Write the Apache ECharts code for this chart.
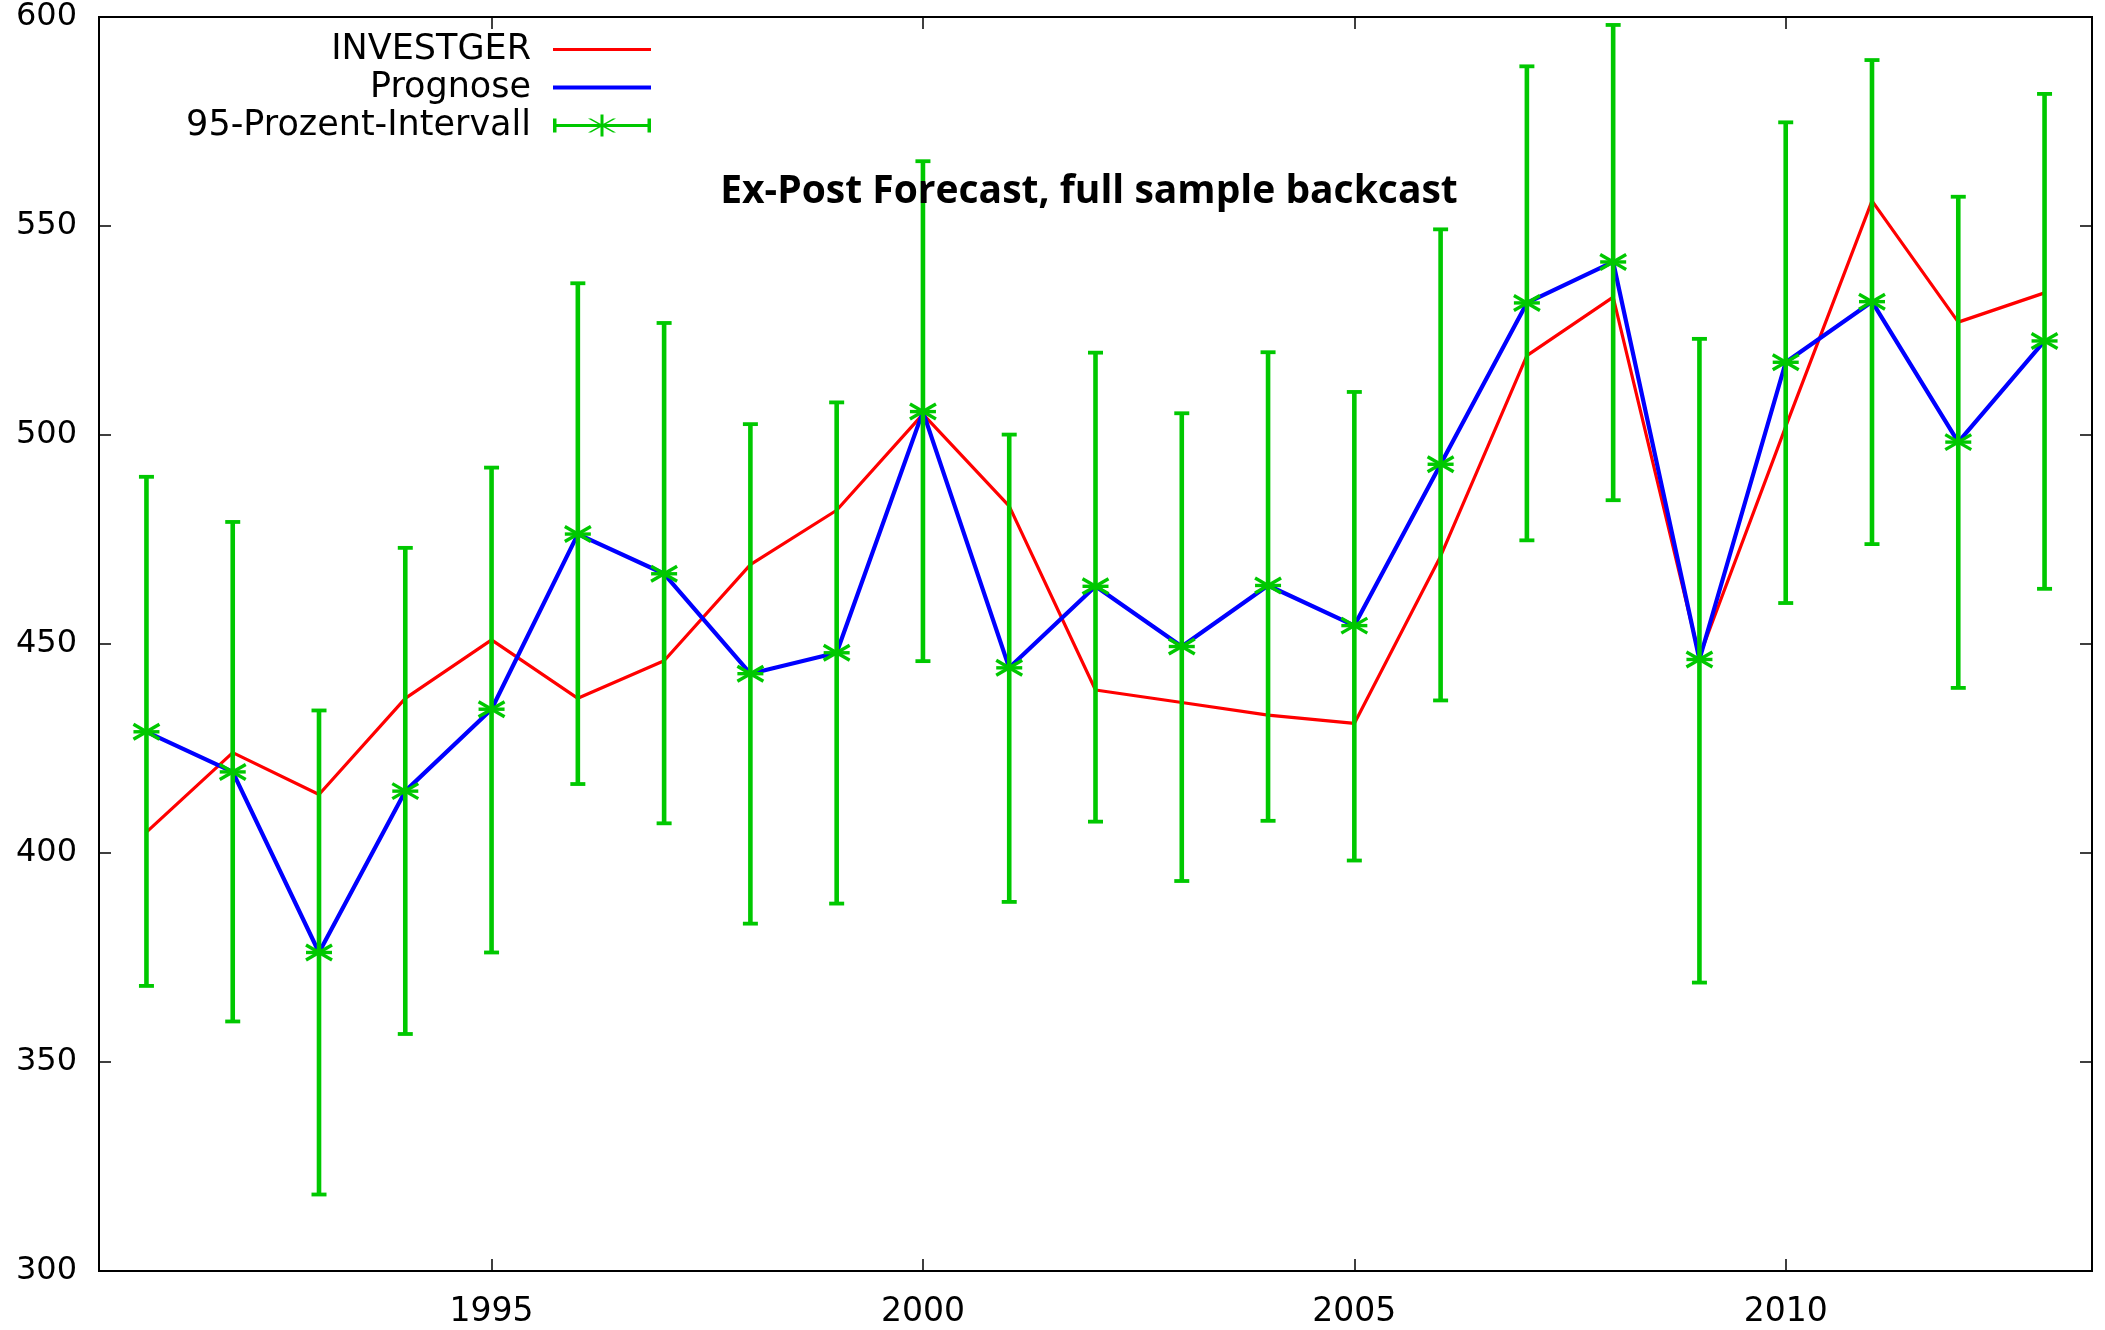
<!DOCTYPE html>
<html>
<head>
<meta charset="utf-8">
<script src="https://cdn.jsdelivr.net/npm/echarts@6/dist/echarts.min.js"></script>
<style>
html,body{margin:0;padding:0;background:#fff;}
#chart{width:2105px;height:1330px;}
</style>
</head>
<body>
<div id="chart"></div>
<script>
const years = [1991,1992,1993,1994,1995,1996,1997,1998,1999,2000,2001,2002,2003,2004,2005,2006,2007,2008,2009,2010,2011,2012,2013];
const investger = [405,424,414,437,451,437,446,469,482,505,483,439,436,433,431,471,519,533,447,502,556,527,534];
const prognose = [429,419.4,376.2,414.8,434.4,476.3,466.8,442.9,447.9,505.6,444.3,463.8,449.4,464,454.4,493,531.6,541.4,446.3,517.4,531.9,498.3,522.5];
const lower = [368.2,359.7,318.3,356.7,376.2,416.5,407.1,383.1,387.9,445.9,388.3,407.5,393.3,407.7,398.2,436.5,474.8,484.4,369,459.8,473.9,439.5,463.2];
const upper = [490,479.2,434.1,473,492.2,536.3,526.8,502.6,507.8,565.5,500.1,519.7,505.2,519.8,510.3,549.2,588.2,598.1,523,574.8,589.7,557,581.6];
const xTicks = [1995,2000,2005,2010];
const seriesNames = ['INVESTGER','Prognose','95-Prozent-Intervall'];
const titleText = 'Ex-Post Forecast, full sample backcast';

const chart = echarts.init(document.getElementById('chart'), null, {renderer:'canvas'});

const xCommon = {
  type:'value', min:1990.45, max:2013.55,
  axisLine:{show:false}, splitLine:{show:false},
  axisTick:{show:true, inside:true, length:12, customValues:xTicks, lineStyle:{color:'#000', width:1.5}}
};
const yCommon = {
  type:'value', min:300, max:600, interval:50,
  axisLine:{show:false}, splitLine:{show:false},
  axisTick:{show:true, inside:true, length:12, lineStyle:{color:'#000', width:1.5}}
};

const iconPath = 'path://M0 9.5H98V12.5H0Z M0 4H3.5V18H0Z M94.5 4H98V18H94.5Z M47.5 0H50.5V22H47.5Z M35 4L38 4L63 18L60 18Z M60 4L63 4L38 18L35 18Z';
const redIcon = 'path://M0 0H98V3H0Z';
const blueIcon = 'path://M0 0H98V4H0Z';

const option = {
  animation:false,
  backgroundColor:'#fff',
  title:{
    text:titleText, left:1089, top:172, padding:0, textAlign:'center',
    textStyle:{fontFamily:'Open Sans', fontWeight:'bold', fontSize:39, color:'#000'}
  },
  legend:{
    orient:'vertical', align:'right', right:1454, top:32, padding:0, itemGap:3,
    itemWidth:98, itemHeight:22,
    textStyle:{fontFamily:'DejaVu Sans', fontSize:35, color:'#000', padding:[0,17,0,0]},
    data:[{name:seriesNames[0], icon:redIcon},{name:seriesNames[1], icon:blueIcon},{name:seriesNames[2], icon:iconPath}]
  },
  grid:{left:99, right:13, top:17, bottom:59, show:true, borderColor:'#000', borderWidth:2, backgroundColor:'transparent'},
  xAxis:[
    Object.assign({}, xCommon, {position:'bottom',
      axisLabel:{show:true, customValues:xTicks, margin:25, fontFamily:'DejaVu Sans', fontSize:33, color:'#000',
        formatter:function(v){return String(Math.round(v));}}}),
    Object.assign({}, xCommon, {position:'top', axisLabel:{show:false}})
  ],
  yAxis:[
    Object.assign({}, yCommon, {position:'left',
      axisLabel:{show:true, margin:22, fontFamily:'DejaVu Sans', fontSize:32, color:'#000'}}),
    Object.assign({}, yCommon, {position:'right', axisLabel:{show:false}})
  ],
  series:[
    {
      name:seriesNames[0], type:'line', xAxisIndex:0, yAxisIndex:0,
      data:years.map((y,i)=>[y, investger[i]]),
      symbol:'none', z:2,
      lineStyle:{color:'#ff0000', width:3.2}, itemStyle:{color:'#ff0000'}
    },
    {
      name:seriesNames[1], type:'line', xAxisIndex:0, yAxisIndex:0,
      data:years.map((y,i)=>[y, prognose[i]]),
      symbol:'none', z:3,
      lineStyle:{color:'#0000ff', width:4.2}, itemStyle:{color:'#0000ff'}
    },
    {
      name:seriesNames[2], type:'custom', xAxisIndex:0, yAxisIndex:0, z:4,
      itemStyle:{color:'#00c800'},
      data:years.map((y,i)=>[y, lower[i], upper[i], prognose[i]]),
      encode:{x:0, y:[1,2,3]},
      renderItem:function(params, api){
        const x = api.value(0);
        const lo = api.coord([x, api.value(1)]);
        const hi = api.coord([x, api.value(2)]);
        const m = api.coord([x, api.value(3)]);
        const c = '#00c800';
        const st = {stroke:c, lineWidth:4.6};
        const cs = {stroke:c, lineWidth:3.8};
        const ms = {stroke:c, lineWidth:3.4};
        const cw = 7.5, mw = 13, mh = 7.5;
        return {type:'group', children:[
          {type:'line', shape:{x1:lo[0], y1:lo[1], x2:hi[0], y2:hi[1]}, style:st},
          {type:'line', shape:{x1:lo[0]-cw, y1:lo[1], x2:lo[0]+cw, y2:lo[1]}, style:cs},
          {type:'line', shape:{x1:hi[0]-cw, y1:hi[1], x2:hi[0]+cw, y2:hi[1]}, style:cs},
          {type:'line', shape:{x1:m[0]-mw, y1:m[1]-mh, x2:m[0]+mw, y2:m[1]+mh}, style:ms},
          {type:'line', shape:{x1:m[0]-mw, y1:m[1]+mh, x2:m[0]+mw, y2:m[1]-mh}, style:ms},
          {type:'line', shape:{x1:m[0]-mw, y1:m[1], x2:m[0]+mw, y2:m[1]}, style:ms}
        ]};
      }
    }
  ]
};
chart.setOption(option);
</script>
</body>
</html>
